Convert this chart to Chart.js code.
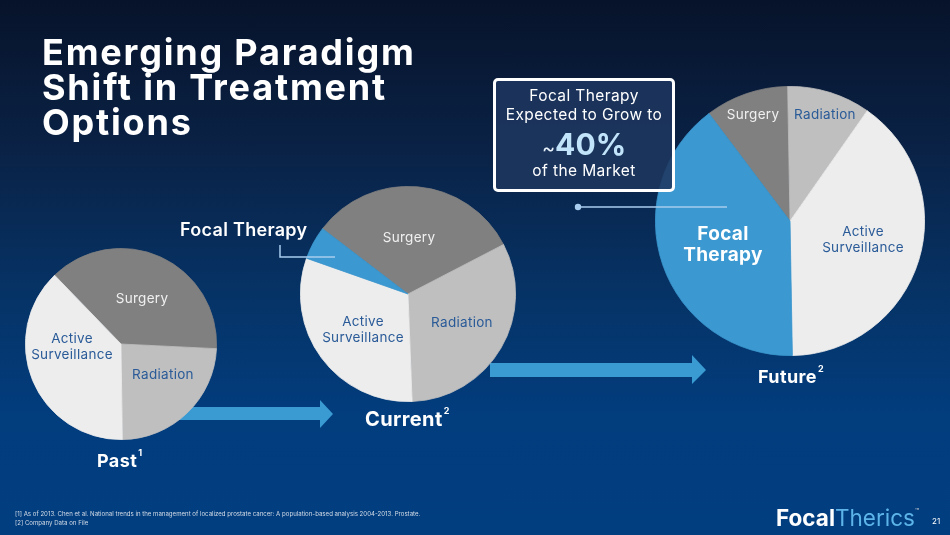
<!DOCTYPE html>
<html>
<head>
<meta charset="utf-8">
<script src="https://cdn.jsdelivr.net/npm/chart.js@4.4.1/dist/chart.umd.min.js"></script>
<style>
body { margin: 0; background: #000; }
#slide {
    position: relative; width: 950px; height: 535px; overflow: hidden;
    background: linear-gradient(180deg, #07132a 0%, #0a2246 28%, #063366 55%, #023d7e 78%, #013e80 100%);
    font-family: Inter, 'Open Sans', sans-serif; color: #fff;
}
.abs { position: absolute; white-space: nowrap; }
canvas { position: absolute; }
#title { left: 42px; top: 35px; font-size: 36px; line-height: 35px; font-weight: 700; letter-spacing: 1.8px; }
.stage { font-weight: 700; letter-spacing: 0.4px; }
.stage sup { font-size: 9px; position: relative; top: -4px; margin-left: 1px; }
#callout {
    position: absolute; left: 493px; top: 78px; width: 176px; height: 108px;
    border: 3px solid #fff; border-radius: 5px; background: rgba(30, 55, 95, 0.88);
}
.cl { position: absolute; width: 182px; left: 493px; text-align: center; font-size: 15.5px; letter-spacing: 0.4px; }
#foot { left: 15px; top: 509px; font-size: 6.1px; line-height: 9px; color: #d5dce6; }
#logo { left: 776px; top: 504px; font-size: 22.5px; }
</style>
</head>
<body>
<div id="slide">
    <svg class="abs" width="950" height="535" style="left:0;top:0">
        <polygon points="150,407 320,407 320,400 333,414 320,428 320,420 150,420" fill="#3a9ad2"/>
        <polygon points="490,363 692,363 692,355 706,370 692,384 692,377 490,377" fill="#3a9ad2"/>
    </svg>

    <canvas id="past" width="192" height="192" style="left:25px;top:248px"></canvas>
    <canvas id="current" width="216" height="216" style="left:300px;top:186px"></canvas>
    <canvas id="future" width="270" height="270" style="left:655px;top:86px"></canvas>

    <svg class="abs" width="950" height="535" style="left:0;top:0">
        <polyline points="280,245 280,257 335,257" fill="none" stroke="#a9cdee" stroke-width="1.5"/>
        <line x1="578" y1="207" x2="727" y2="207" stroke="#a9cdee" stroke-width="1.5"/>
        <circle cx="578" cy="207" r="3.2" fill="#a9cdee"/>
    </svg>

    <div id="title" class="abs">Emerging Paradigm<br>Shift in Treatment<br>Options</div>

    <div id="callout"></div>
    <div class="cl abs" style="top:86px">Focal Therapy</div>
    <div class="cl abs" style="top:105px">Expected to Grow to</div>
    <div class="cl abs" style="top:126px;font-size:30px;font-weight:700;color:#c2e4fa;letter-spacing:0"><span style="font-size:20px;font-weight:400;color:#e8f2fb">~</span>40%</div>
    <div class="cl abs" style="top:161px">of the Market</div>

    <div class="abs" style="left:180px;top:219px;font-size:18px;font-weight:600;letter-spacing:0.3px">Focal Therapy</div>

    <div class="abs stage" style="left:97px;top:450px;font-size:18px">Past<sup>1</sup></div>
    <div class="abs stage" style="left:365px;top:407px;font-size:20px">Current<sup>2</sup></div>
    <div class="abs stage" style="left:758px;top:366px;font-size:18px">Future<sup>2</sup></div>

    <div id="foot" class="abs">[1] As of 2013. Chen et al. National trends in the management of localized prostate cancer: A population-based analysis 2004-2013. Prostate.<br>[2] Company Data on File</div>
    <div id="logo" class="abs"><span style="font-weight:700">Focal</span><span style="font-weight:400;color:#5cb4e8">Therics</span><span style="font-size:7px;vertical-align:top;position:relative;top:3px;color:#ccc">™</span></div>
    <div class="abs" style="left:932px;top:516px;font-size:8px">21</div>
</div>

<script>
// values (share of treatment, %)
const pastLabels = ['Surgery', 'Radiation', 'Active Surveillance'];
const pastValues = [38, 24, 38];

const currentLabels = ['Surgery', 'Radiation', 'Active Surveillance', 'Focal Therapy'];
const currentValues = [32, 32, 31, 5];

const futureLabels = ['Surgery', 'Radiation', 'Active Surveillance', 'Focal Therapy'];
const futureValues = [10, 10, 40, 40];

const sliceColors = {
    'Surgery': '#808080',
    'Radiation': '#bfbfbf',
    'Active Surveillance': '#ededed',
    'Focal Therapy': '#3b98d0'
};

const NAVY = '#2a5b98';
const LIGHT = '#f0f0f0';

// label placement relative to pie centre
const pastText = [
    { dx: 21, dy: -45, color: LIGHT },
    { dx: 42, dy: 31, color: NAVY },
    { dx: -49, dy: 3, color: NAVY, wrap: true }
];
const currentText = [
    { dx: 1, dy: -56, color: LIGHT },
    { dx: 54, dy: 29, color: NAVY },
    { dx: -45, dy: 36, color: NAVY, wrap: true },
    null
];
const futureText = [
    { dx: -37, dy: -106, color: LIGHT },
    { dx: 35, dy: -106, color: NAVY },
    { dx: 73, dy: 19, color: NAVY, wrap: true },
    { dx: -67, dy: 24, color: '#ffffff', wrap: true, size: 19, weight: 700, lh: 21 }
];

const sliceText = {
    id: 'sliceText',
    afterDatasetsDraw(chart, args, opts) {
        const ctx = chart.ctx;
        const arc = chart.getDatasetMeta(0).data[0];
        const labels = chart.data.labels;
        ctx.save();
        ctx.textAlign = 'center';
        ctx.textBaseline = 'middle';
        ctx.letterSpacing = '0.3px';
        opts.items.forEach((it, i) => {
            if (!it) return;
            const size = it.size || 13.5;
            const lh = it.lh || 16;
            ctx.font = `${it.weight || 400} ${size}px Inter, 'Open Sans', sans-serif`;
            ctx.fillStyle = it.color;
            const lines = it.wrap ? labels[i].split(' ') : [labels[i]];
            lines.forEach((line, k) => {
                const y = arc.y + it.dy + (k - (lines.length - 1) / 2) * lh;
                ctx.fillText(line, arc.x + it.dx, y);
            });
        });
        ctx.restore();
    }
};

function makePie(id, labels, values, rotation, items) {
    return new Chart(document.getElementById(id), {
        type: 'pie',
        data: {
            labels: labels,
            datasets: [{
                data: values,
                backgroundColor: labels.map(l => sliceColors[l]),
                borderColor: labels.map(l => sliceColors[l]),
                borderWidth: 0.8,
                hoverOffset: 0,
                offset: 0
            }]
        },
        options: {
            responsive: false,
            animation: false,
            events: [],
            rotation: rotation,
            layout: { padding: 0 },
            plugins: {
                legend: { display: false },
                tooltip: { enabled: false },
                sliceText: { items: items }
            }
        },
        plugins: [sliceText]
    });
}

makePie('past', pastLabels, pastValues, -44, pastText);
makePie('current', currentLabels, currentValues, -52.6, currentText);
makePie('future', futureLabels, futureValues, -37, futureText);
</script>
</body>
</html>
